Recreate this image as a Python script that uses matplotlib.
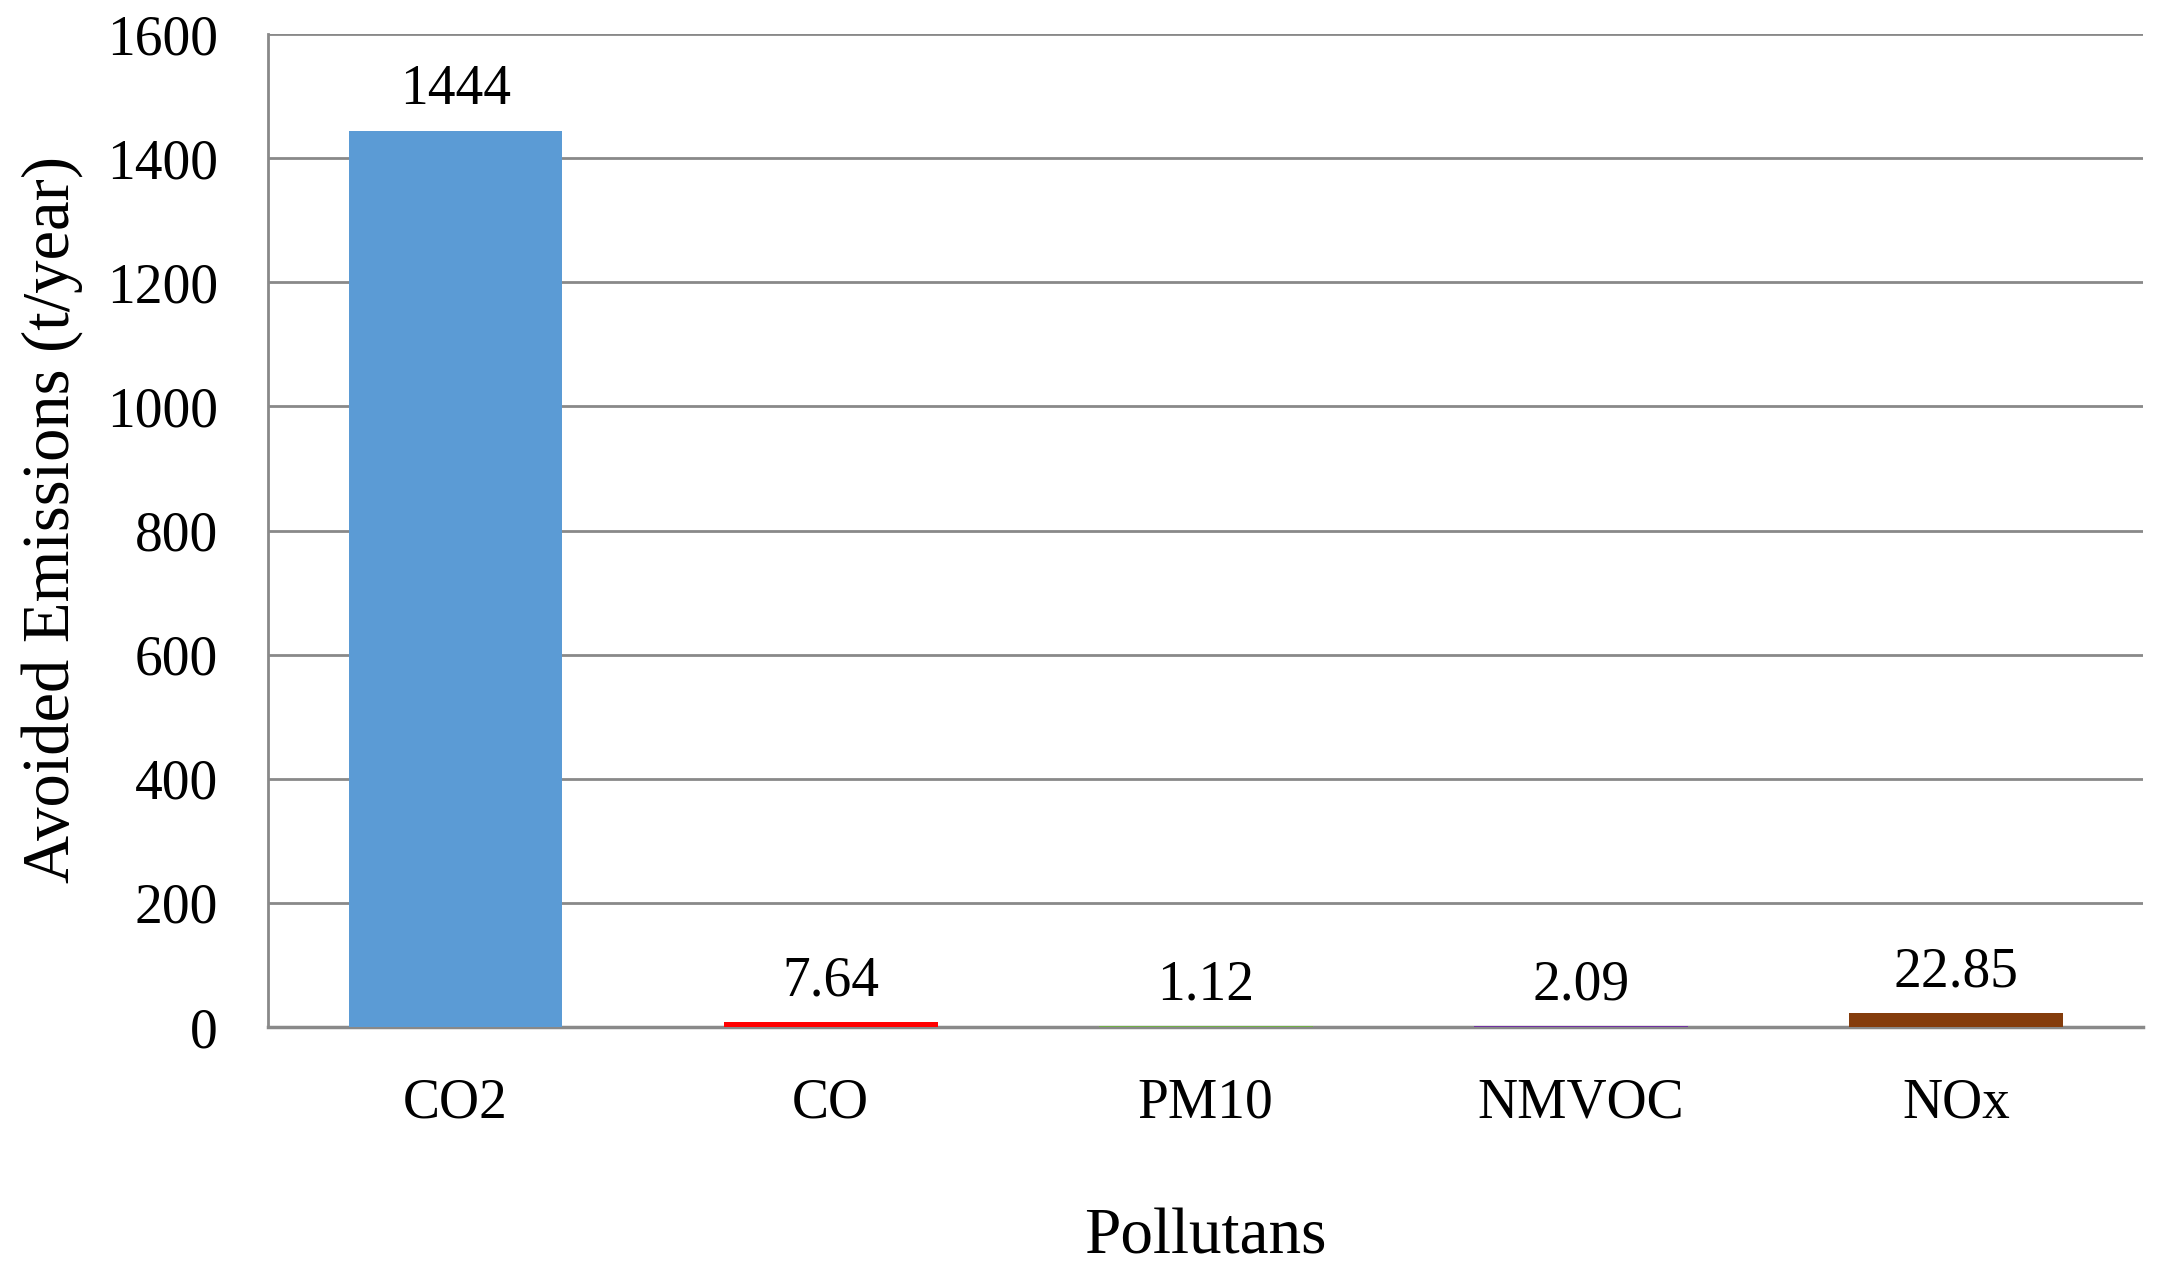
import matplotlib
matplotlib.use("Agg")
import matplotlib.pyplot as plt
import numpy as np

plt.rcParams['font.family'] = ['Liberation Serif', 'DejaVu Serif']

# data
pollutants = ["CO2", "CO", "PM10", "NMVOC", "NOx"]
avoided = [1444, 7.64, 1.12, 2.09, 22.85]
value_labels = ["1444", "7.64", "1.12", "2.09", "22.85"]
bar_colors = ["#5B9BD5", "#FF0000", "#70AD47", "#7030A0", "#843C0C"]
yticks = [0, 200, 400, 600, 800, 1000, 1200, 1400, 1600]

fig = plt.figure(figsize=(21.58, 12.75), dpi=100)
ax = fig.add_axes([0.1242, 0.1945, 0.869, 0.7788])

x = np.arange(len(pollutants))
bars = ax.bar(x, avoided, width=0.57, color=bar_colors, zorder=3)

# value labels above each bar
for rect, lab in zip(bars, value_labels):
    ax.annotate(lab, (rect.get_x() + rect.get_width() / 2, rect.get_height()),
                xytext=(0, 10.5), textcoords="offset points",
                ha="center", va="bottom", fontsize=40)

ax.set_xlim(-0.5, len(pollutants) - 0.5)
ax.set_ylim(0, 1600)
ax.set_yticks(yticks)
ax.set_xticks(x)
ax.set_xticklabels(pollutants)
ax.tick_params(axis="both", length=0, labelsize=40)
ax.tick_params(axis="y", pad=36)
ax.tick_params(axis="x", pad=36)

ax.yaxis.grid(True, color="#898989", linewidth=2, zorder=0)
ax.set_axisbelow(True)
for side in ["top", "right"]:
    ax.spines[side].set_visible(False)
ax.spines["left"].set_color("#898989")
ax.spines["left"].set_linewidth(2)
ax.spines["bottom"].set_color("#898989")
ax.spines["bottom"].set_linewidth(2.5)

ax.set_xlabel("Pollutans", fontsize=47, va="center")
ax.xaxis.set_label_coords(0.5, -0.2125)
ax.set_ylabel("Avoided Emissions (t/year)", fontsize=48, va="center")
ax.yaxis.set_label_coords(-0.115, 0.511)

fig.savefig("out.png", dpi=100)
